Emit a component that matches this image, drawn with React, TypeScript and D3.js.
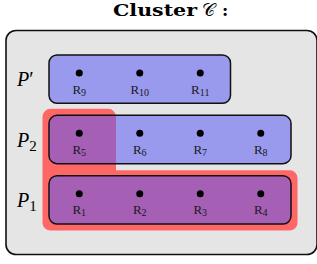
import { path, scaleBand } from "d3";

const titleWord = "Cluster";
const titleSymbol = "𝒞";
const partitions = ["P", "P", "P"];
const partitionMarks = ["′", "2", "1"];
const members = [
  ["9", "10", "11"],
  ["5", "6", "7", "8"],
  ["1", "2", "3", "4"],
];
// highlighted: all of P1 plus R5 from P2
const highlightRow = 2;
const highlightExtra = { row: 1, cols: 1 };

const W = 317;
const H = 264;
const serif = "'Liberation Serif', 'DejaVu Serif', serif";

export default function App() {
  const cols = scaleBand<number>().domain([0, 1, 2, 3]).range([49, 291]);
  const rows = scaleBand<number>().domain([0, 1, 2]).range([55, 224]).paddingInner(0.2);
  const bw = cols.bandwidth();
  const bh = rows.bandwidth();

  // L-shaped red highlight
  const pad = 6.5;
  const r = 8;
  const x0 = cols(0)! - pad;
  const x1 = cols(highlightExtra.cols - 1)! + bw + pad;
  const x2 = cols(3)! + bw + pad;
  const y0 = rows(highlightExtra.row)! - pad;
  const y1 = rows(highlightExtra.row)! + bh + pad;
  const y2 = rows(highlightRow)! + bh + pad;
  const p = path();
  p.moveTo(x0, y0 + r);
  p.arcTo(x0, y0, x0 + r, y0, r);
  p.arcTo(x1, y0, x1, y0 + r, r);
  p.lineTo(x1, y1);
  p.lineTo(x2 - r, y1);
  p.arcTo(x2, y1, x2, y1 + r, r);
  p.arcTo(x2, y2, x2 - r, y2, r);
  p.arcTo(x0, y2, x0, y2 - r, r);
  p.closePath();

  return (
    <svg width={W} height={H} style={{ position: "absolute", left: 0, top: 0 }}>
      <text x={113} y={16} fontFamily="'DejaVu Serif', serif" fontWeight="bold" fontSize={17} textLength={84} lengthAdjust="spacingAndGlyphs">
        {titleWord}
      </text>
      <text x={202} y={16} fontFamily={serif} fontSize={18}>
        {titleSymbol}
      </text>
      <text x={222} y={16} fontFamily="'DejaVu Serif', serif" fontWeight="bold" fontSize={17}>
        :
      </text>
      <rect x={6} y={30.5} width={311} height={224} rx={10} fill="#e5e5e5" stroke="#111" strokeWidth={1.6} />
      <path d={p.toString()} fill="#ff6666" />
      {members.map((m, i) => (
        <g key={i}>
          <rect
            x={cols(0)}
            y={rows(i)}
            width={bw * m.length}
            height={bh}
            rx={8}
            fill="rgb(88,88,246)"
            fillOpacity={0.54}
            stroke="#111"
            strokeWidth={1.5}
          />
          <text x={17} y={rows(i)! + bh / 2 + 7} fontFamily={serif} fontStyle="italic" fontSize={20}>
            {partitions[i]}
            {partitionMarks[i] === "′" ? (
              <tspan fontStyle="normal">′</tspan>
            ) : (
              <tspan fontStyle="normal" fontSize={15} dy={4}>
                {partitionMarks[i]}
              </tspan>
            )}
          </text>
          {m.map((s, j) => (
            <g key={s} transform={`translate(${cols(j)! + bw / 2},${rows(i)! + 18})`}>
              <circle r={3.5} fill="#000" />
              <text y={20.5} textAnchor="middle" fontFamily={serif} fontSize={13} fill="#1a1a1a">
                R
                <tspan fontSize={10} dy={2}>
                  {s}
                </tspan>
              </text>
            </g>
          ))}
        </g>
      ))}
    </svg>
  );
}
